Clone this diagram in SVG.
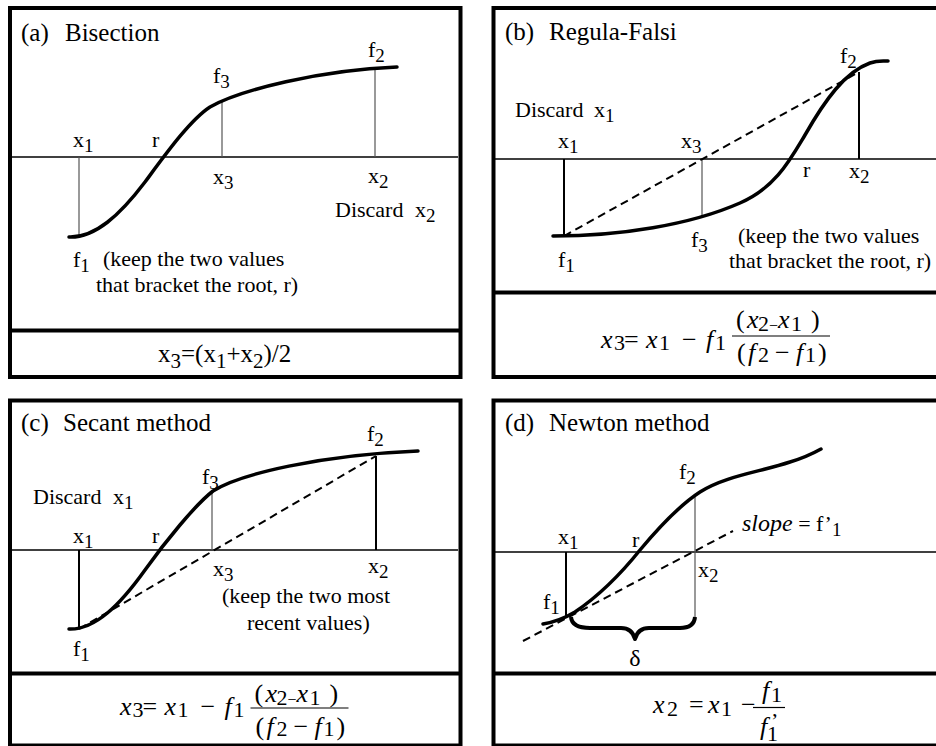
<svg xmlns="http://www.w3.org/2000/svg" width="936" height="746" viewBox="0 0 936 746">
<style>
text { font-family: "Liberation Serif", "Times New Roman", serif; fill: #000; }
.t { font-size: 25px; }
.l { font-size: 22px; }
.s { font-size: 19px; }
.fm { font-size: 25px; }
.fsa { font-size: 21px; }
.fx { font-size: 26px; }
.fs { font-size: 22px; }
.fsm { font-size: 16px; }
.i { font-style: italic; }
.frame { fill: none; stroke: #000; stroke-width: 4; }
.div { stroke: #000; stroke-width: 4; }
.axis { stroke: #000; stroke-width: 1.4; }
.thin { stroke: #555; stroke-width: 1.2; }
.bold { stroke: #000; stroke-width: 2; }
.curve { fill: none; stroke: #000; stroke-width: 3.5; stroke-linecap: round; }
.dash { fill: none; stroke: #000; stroke-width: 2; stroke-dasharray: 8 5; }
.fl { stroke: #000; stroke-width: 1.2; }
.brace { fill: none; stroke: #000; stroke-width: 4; stroke-linejoin: round; }
</style>
<rect width="936" height="746" fill="#fff"/>

<!-- (a) Bisection -->
<g id="panel-a">
  <rect class="frame" x="10" y="8" width="450.5" height="369"/>
  <line class="div" x1="10" y1="330.5" x2="460.5" y2="330.5"/>
  <text class="t" x="21" y="41">(a) <tspan x="65">Bisection</tspan></text>
  <line class="axis" x1="12" y1="157" x2="458" y2="157"/>
  <line class="thin" x1="79" y1="157" x2="79" y2="237"/>
  <line class="thin" x1="222" y1="157" x2="222" y2="102"/>
  <line class="thin" x1="375" y1="157" x2="375" y2="69"/>
  <path class="curve" d="M69,237 C95,238 120,215 145,182 C165,155 190,120 210,107 C240,90 320,70 397,67"/>
  <text class="l" x="73" y="147">x<tspan class="s" dy="5">1</tspan></text>
  <text class="l" x="152" y="147">r</text>
  <text class="l" x="213" y="83">f<tspan class="s" dy="5">3</tspan></text>
  <text class="l" x="213" y="184">x<tspan class="s" dy="5">3</tspan></text>
  <text class="l" x="368" y="57">f<tspan class="s" dy="5">2</tspan></text>
  <text class="l" x="368" y="183">x<tspan class="s" dy="5">2</tspan></text>
  <text class="l" x="335" y="217">Discard <tspan x="415">x</tspan><tspan class="s" dy="5">2</tspan></text>
  <text class="l" x="73" y="267">f<tspan class="s" dy="5">1</tspan></text>
  <text class="l" x="103" y="266">(keep the two values</text>
  <text class="l" x="96" y="292">that bracket the root, r)</text>
  <text class="fm" x="158" y="362">x<tspan class="fsa" dy="6">3</tspan><tspan dy="-6">=(x</tspan><tspan class="fsa" dy="6">1</tspan><tspan dy="-6">+x</tspan><tspan class="fsa" dy="6">2</tspan><tspan dy="-6">)/2</tspan></text>
</g>

<!-- (b) Regula-Falsi -->
<g id="panel-b">
  <rect class="frame" x="493.5" y="8" width="460" height="369"/>
  <line class="div" x1="493.5" y1="292.5" x2="940" y2="292.5"/>
  <text class="t" x="505" y="40">(b) <tspan x="549">Regula-Falsi</tspan></text>
  <line class="axis" x1="495" y1="159" x2="936" y2="159"/>
  <line class="bold" x1="564" y1="159" x2="564" y2="236"/>
  <line class="thin" x1="702" y1="159" x2="702" y2="218"/>
  <line class="bold" x1="859" y1="159" x2="859" y2="72"/>
  <line class="dash" x1="564" y1="236" x2="859" y2="72"/>
  <path class="curve" d="M553,236 C620,236 690,225 740,203 C775,188 790,160 805,135 C825,100 845,72 870,63 C878,60 884,61 888,61"/>
  <text class="l" x="515" y="117">Discard <tspan x="594">x</tspan><tspan class="s" dy="5">1</tspan></text>
  <text class="l" x="558" y="148">x<tspan class="s" dy="5">1</tspan></text>
  <text class="l" x="681" y="148">x<tspan class="s" dy="5">3</tspan></text>
  <text class="l" x="840" y="63">f<tspan class="s" dy="5">2</tspan></text>
  <text class="l" x="803" y="177">r</text>
  <text class="l" x="849" y="178">x<tspan class="s" dy="5">2</tspan></text>
  <text class="l" x="558" y="267">f<tspan class="s" dy="5">1</tspan></text>
  <text class="l" x="691" y="247">f<tspan class="s" dy="5">3</tspan></text>
  <text class="l" x="738" y="243">(keep the two values</text>
  <text class="l" x="729" y="268">that bracket the root, r)</text>
  <text class="fx" y="348"><tspan class="i" x="601">x</tspan><tspan class="fs" x="614" y="350">3</tspan><tspan x="624" y="348">=</tspan><tspan class="i" x="646">x</tspan><tspan class="fs" x="659" y="350">1</tspan><tspan x="682" y="348">−</tspan><tspan class="i" x="706">f</tspan><tspan class="fs" x="715" y="350">1</tspan></text>
  <text class="fx" y="328"><tspan x="736">(</tspan><tspan class="i" x="747">x</tspan><tspan class="fs" x="758" y="331">2</tspan><tspan class="fsm" x="769" y="331">−</tspan><tspan class="i" x="778" y="328">x</tspan><tspan class="fs" x="791" y="331">1</tspan><tspan x="811" y="328">)</tspan></text>
  <line class="fl" x1="732" y1="336" x2="830" y2="336"/>
  <text class="fx" y="361"><tspan x="737">(</tspan><tspan class="i" x="748">f</tspan><tspan class="fs" x="758" y="362">2</tspan><tspan x="775" y="361">−</tspan><tspan class="i" x="796">f</tspan><tspan class="fs" x="805" y="362">1</tspan><tspan x="818" y="361">)</tspan></text>
</g>

<!-- (c) Secant method -->
<g id="panel-c">
  <rect class="frame" x="10" y="400.5" width="450.5" height="345"/>
  <line class="div" x1="10" y1="673.5" x2="460.5" y2="673.5"/>
  <text class="t" x="21" y="431">(c) <tspan x="63">Secant method</tspan></text>
  <line class="axis" x1="12" y1="550" x2="458" y2="550"/>
  <line class="bold" x1="79" y1="550" x2="79" y2="629"/>
  <line class="thin" x1="212" y1="550" x2="212" y2="493"/>
  <line class="bold" x1="376" y1="550" x2="376" y2="456"/>
  <line class="dash" x1="79" y1="629" x2="376" y2="456"/>
  <path class="curve" d="M69,629 C95,630 120,605 145,570 C165,542 195,505 213,491 C240,474 320,455 418,451"/>
  <text class="l" x="33" y="504">Discard <tspan x="113">x</tspan><tspan class="s" dy="5">1</tspan></text>
  <text class="l" x="73" y="543">x<tspan class="s" dy="5">1</tspan></text>
  <text class="l" x="152" y="543">r</text>
  <text class="l" x="202" y="484">f<tspan class="s" dy="5">3</tspan></text>
  <text class="l" x="367" y="441">f<tspan class="s" dy="5">2</tspan></text>
  <text class="l" x="213" y="576">x<tspan class="s" dy="5">3</tspan></text>
  <text class="l" x="368" y="573">x<tspan class="s" dy="5">2</tspan></text>
  <text class="l" x="222" y="603">(keep the two most</text>
  <text class="l" x="247" y="630">recent values)</text>
  <text class="l" x="73" y="656">f<tspan class="s" dy="5">1</tspan></text>
  <text class="fx" y="715"><tspan class="i" x="120">x</tspan><tspan class="fs" x="132.5" y="717">3</tspan><tspan x="142.5" y="715">=</tspan><tspan class="i" x="164.5">x</tspan><tspan class="fs" x="177.5" y="717">1</tspan><tspan x="200.5" y="715">−</tspan><tspan class="i" x="224.5">f</tspan><tspan class="fs" x="233.5" y="717">1</tspan></text>
  <text class="fx" y="702"><tspan x="254.5">(</tspan><tspan class="i" x="265.5">x</tspan><tspan class="fs" x="276.5" y="705">2</tspan><tspan class="fsm" x="287.5" y="705">−</tspan><tspan class="i" x="296.5" y="702">x</tspan><tspan class="fs" x="309.5" y="705">1</tspan><tspan x="329.5" y="702">)</tspan></text>
  <line class="fl" x1="250.5" y1="708" x2="348.5" y2="708"/>
  <text class="fx" y="735"><tspan x="255.5">(</tspan><tspan class="i" x="266.5">f</tspan><tspan class="fs" x="276.5" y="736">2</tspan><tspan x="293.5" y="735">−</tspan><tspan class="i" x="314.5">f</tspan><tspan class="fs" x="323.5" y="736">1</tspan><tspan x="336.5" y="735">)</tspan></text>
</g>

<!-- (d) Newton method -->
<g id="panel-d">
  <rect class="frame" x="493.5" y="400.5" width="460" height="345"/>
  <line class="div" x1="493.5" y1="673.5" x2="940" y2="673.5"/>
  <text class="t" x="505" y="431">(d) <tspan x="549">Newton method</tspan></text>
  <line class="axis" x1="495" y1="552" x2="936" y2="552"/>
  <line class="bold" x1="566" y1="552" x2="566" y2="616"/>
  <line class="thin" x1="695" y1="496" x2="695" y2="618"/>
  <line class="dash" x1="523" y1="641" x2="733" y2="531"/>
  <path class="curve" d="M543,624 C555,622 565,618 575,612 C600,595 620,575 640,550 C660,526 680,505 700,492 C725,476 760,472 790,462 C800,459 812,454 821,449"/>
  <path class="brace" d="M571,617 Q572,628 590,628 L621,628 Q632,628 635,639 Q638,628 649,628 L680,628 Q694,628 695,617"/>
  <text class="l" x="558" y="544">x<tspan class="s" dy="5">1</tspan></text>
  <text class="l" x="632" y="547">r</text>
  <text class="l" x="679" y="479">f<tspan class="s" dy="5">2</tspan></text>
  <text class="l" x="742" y="531"><tspan class="i" style="font-size:24px">slope</tspan> = f’<tspan class="s" dy="5">1</tspan></text>
  <text class="l" x="698" y="577">x<tspan class="s" dy="5">2</tspan></text>
  <text class="l" x="543" y="609">f<tspan class="s" dy="5">1</tspan></text>
  <text class="l" x="635" y="666" text-anchor="middle" style="font-size:24px">δ</text>
  <text class="fx" y="713"><tspan class="i" x="653">x</tspan><tspan class="fs" x="667" y="716">2</tspan><tspan x="689" y="713">=</tspan><tspan class="i" x="708">x</tspan><tspan class="fs" x="721" y="716">1</tspan><tspan x="741" y="713">−</tspan></text>
  <line class="fl" x1="753" y1="707.5" x2="785" y2="707.5"/>
  <text class="fx" y="699"><tspan class="i" x="762">f</tspan><tspan class="fs" x="771" y="702">1</tspan></text>
  <text class="fx" y="735"><tspan class="i" x="760">f</tspan><tspan class="fs" x="771" y="728">’</tspan><tspan class="fs" x="767" y="741">1</tspan></text>
</g>
</svg>
